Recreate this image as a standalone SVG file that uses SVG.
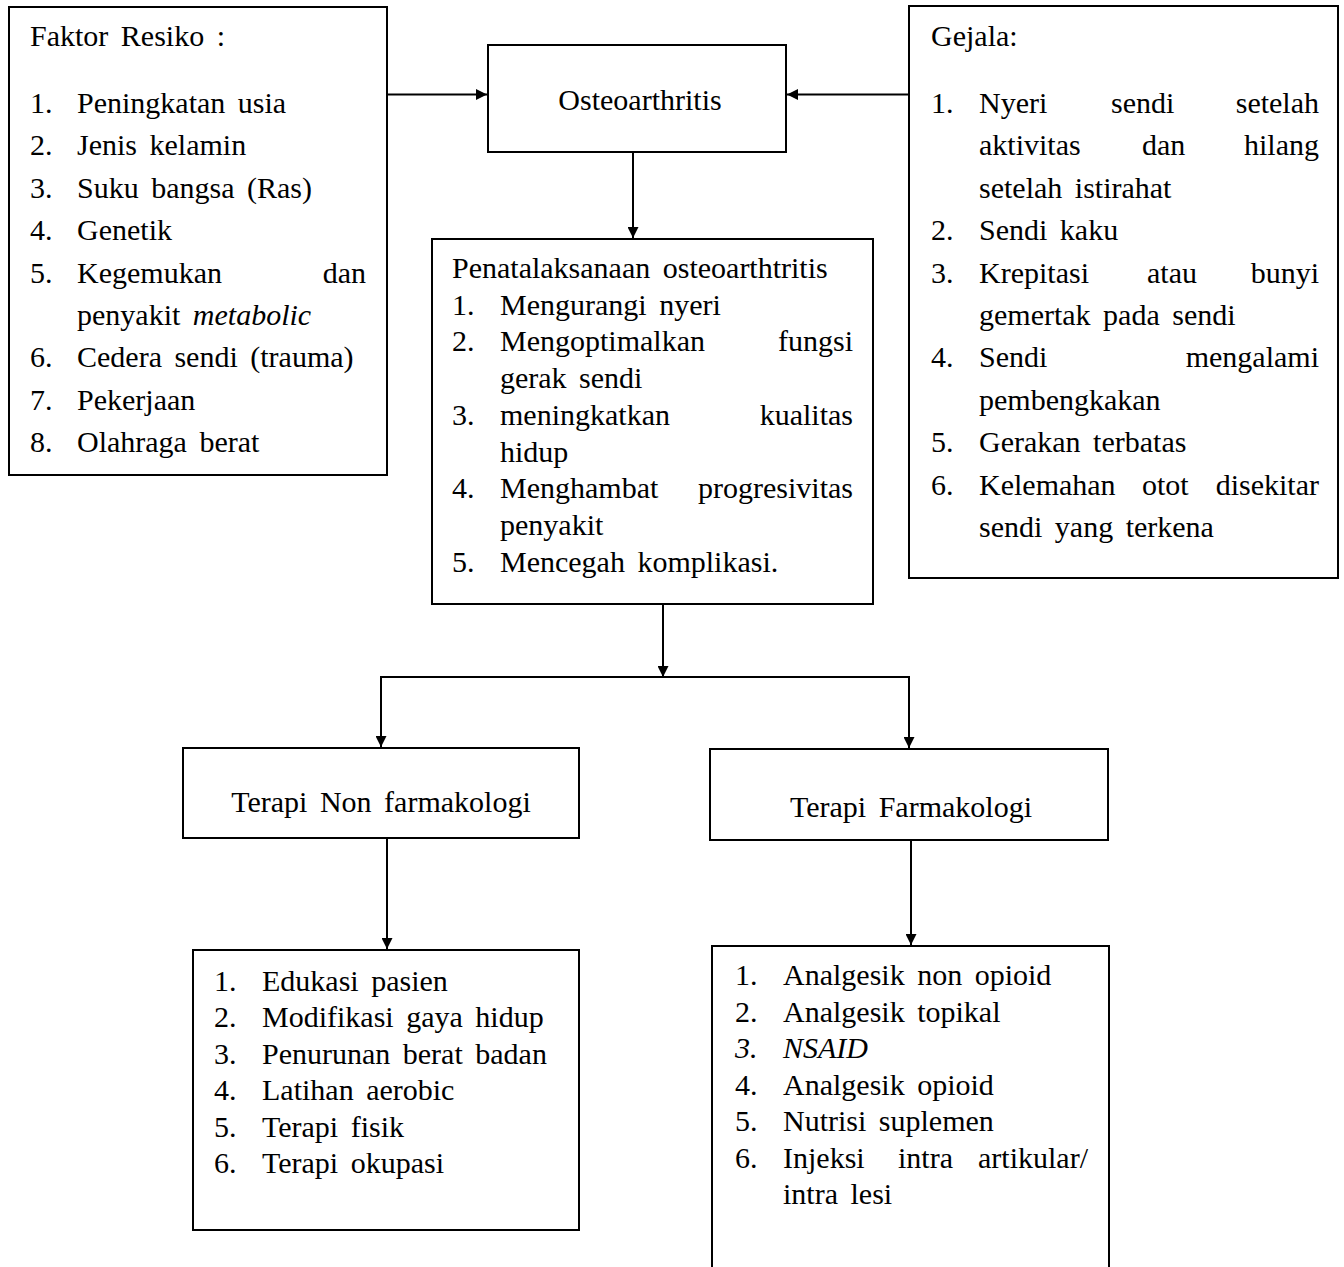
<svg xmlns="http://www.w3.org/2000/svg" width="1344" height="1267" viewBox="0 0 1344 1267">
<style>
  .box { fill: #fff; stroke: #000; stroke-width: 2; }
  .t { font-family: "Liberation Serif", "Times New Roman", serif; font-size: 30px; fill: #000; word-spacing: 5px; }
  .c { text-anchor: middle; }
  .e { text-anchor: end; }
  .i { font-style: italic; }
  .conn { fill: none; stroke: #000; stroke-width: 2; }
</style>
<defs>
  <marker id="arr" markerUnits="userSpaceOnUse" markerWidth="11" markerHeight="11" viewBox="0 0 10 10" refX="10" refY="5" orient="auto">
    <path d="M0,0 L10,5 L0,10 z" fill="#000"/>
  </marker>
</defs>
<rect width="1344" height="1267" fill="#fff"/>

<g id="faktor">
  <rect class="box" x="9" y="7" width="378" height="468"/>
  <text class="t" x="30" y="46">Faktor Resiko :</text>
  <text class="t" x="30" y="113">1.</text><text class="t" x="77" y="113">Peningkatan usia</text>
  <text class="t" x="30" y="155.4">2.</text><text class="t" x="77" y="155.4">Jenis kelamin</text>
  <text class="t" x="30" y="197.8">3.</text><text class="t" x="77" y="197.8">Suku bangsa (Ras)</text>
  <text class="t" x="30" y="240.2">4.</text><text class="t" x="77" y="240.2">Genetik</text>
  <text class="t" x="30" y="282.6">5.</text><text class="t" x="77" y="282.6">Kegemukan</text><text class="t e" x="366" y="282.6">dan</text>
  <text class="t" x="77" y="325">penyakit <tspan class="i">metabolic</tspan></text>
  <text class="t" x="30" y="367.4">6.</text><text class="t" x="77" y="367.4">Cedera sendi (trauma)</text>
  <text class="t" x="30" y="409.8">7.</text><text class="t" x="77" y="409.8">Pekerjaan</text>
  <text class="t" x="30" y="452.2">8.</text><text class="t" x="77" y="452.2">Olahraga berat</text>
</g>

<g id="osteoarthritis">
  <rect class="box" x="488" y="45" width="298" height="107"/>
  <text class="t c" x="640" y="110">Osteoarthritis</text>
</g>

<g id="gejala">
  <rect class="box" x="909" y="6" width="429" height="572"/>
  <text class="t" x="931" y="46">Gejala:</text>
  <text class="t" x="931" y="113">1.</text><text class="t" x="979" y="113">Nyeri</text><text class="t" x="1111" y="113">sendi</text><text class="t e" x="1319" y="113">setelah</text>
  <text class="t" x="979" y="155.4">aktivitas</text><text class="t" x="1142" y="155.4">dan</text><text class="t e" x="1319" y="155.4">hilang</text>
  <text class="t" x="979" y="197.8">setelah istirahat</text>
  <text class="t" x="931" y="240.2">2.</text><text class="t" x="979" y="240.2">Sendi kaku</text>
  <text class="t" x="931" y="282.6">3.</text><text class="t" x="979" y="282.6">Krepitasi</text><text class="t" x="1147" y="282.6">atau</text><text class="t e" x="1319" y="282.6">bunyi</text>
  <text class="t" x="979" y="325">gemertak pada sendi</text>
  <text class="t" x="931" y="367.4">4.</text><text class="t" x="979" y="367.4">Sendi</text><text class="t e" x="1319" y="367.4">mengalami</text>
  <text class="t" x="979" y="409.8">pembengkakan</text>
  <text class="t" x="931" y="452.2">5.</text><text class="t" x="979" y="452.2">Gerakan terbatas</text>
  <text class="t" x="931" y="494.6">6.</text><text class="t" x="979" y="494.6">Kelemahan</text><text class="t" x="1142" y="494.6">otot</text><text class="t e" x="1319" y="494.6">disekitar</text>
  <text class="t" x="979" y="537">sendi yang terkena</text>
</g>

<g id="penatalaksanaan">
  <rect class="box" x="432" y="239" width="441" height="365"/>
  <text class="t" x="452" y="278">Penatalaksanaan osteoarthtritis</text>
  <text class="t" x="452" y="314.7">1.</text><text class="t" x="500" y="314.7">Mengurangi nyeri</text>
  <text class="t" x="452" y="351.4">2.</text><text class="t" x="500" y="351.4">Mengoptimalkan</text><text class="t e" x="853" y="351.4">fungsi</text>
  <text class="t" x="500" y="388.1">gerak sendi</text>
  <text class="t" x="452" y="424.8">3.</text><text class="t" x="500" y="424.8">meningkatkan</text><text class="t e" x="853" y="424.8">kualitas</text>
  <text class="t" x="500" y="461.5">hidup</text>
  <text class="t" x="452" y="498.2">4.</text><text class="t" x="500" y="498.2">Menghambat</text><text class="t e" x="853" y="498.2">progresivitas</text>
  <text class="t" x="500" y="534.9">penyakit</text>
  <text class="t" x="452" y="571.6">5.</text><text class="t" x="500" y="571.6">Mencegah komplikasi.</text>
</g>

<g id="nonfarmakologi">
  <rect class="box" x="183" y="748" width="396" height="90"/>
  <text class="t c" x="381" y="812">Terapi Non farmakologi</text>
</g>

<g id="farmakologi">
  <rect class="box" x="710" y="749" width="398" height="91"/>
  <text class="t c" x="911" y="817">Terapi Farmakologi</text>
</g>

<g id="nonfarmakologi-list">
  <rect class="box" x="193" y="950" width="386" height="280"/>
  <text class="t" x="214" y="991">1.</text><text class="t" x="262" y="991">Edukasi pasien</text>
  <text class="t" x="214" y="1027.4">2.</text><text class="t" x="262" y="1027.4">Modifikasi gaya hidup</text>
  <text class="t" x="214" y="1063.8">3.</text><text class="t" x="262" y="1063.8">Penurunan berat badan</text>
  <text class="t" x="214" y="1100.2">4.</text><text class="t" x="262" y="1100.2">Latihan aerobic</text>
  <text class="t" x="214" y="1136.6">5.</text><text class="t" x="262" y="1136.6">Terapi fisik</text>
  <text class="t" x="214" y="1173">6.</text><text class="t" x="262" y="1173">Terapi okupasi</text>
</g>

<g id="farmakologi-list">
  <rect class="box" x="712" y="946" width="397" height="340"/>
  <text class="t" x="735" y="985">1.</text><text class="t" x="783" y="985">Analgesik non opioid</text>
  <text class="t" x="735" y="1021.5">2.</text><text class="t" x="783" y="1021.5">Analgesik topikal</text>
  <text class="t i" x="735" y="1058">3.</text><text class="t i" x="783" y="1058">NSAID</text>
  <text class="t" x="735" y="1094.5">4.</text><text class="t" x="783" y="1094.5">Analgesik opioid</text>
  <text class="t" x="735" y="1131">5.</text><text class="t" x="783" y="1131">Nutrisi suplemen</text>
  <text class="t" x="735" y="1167.5">6.</text><text class="t" x="783" y="1167.5">Injeksi</text><text class="t" x="898" y="1167.5">intra</text><text class="t e" x="1088" y="1167.5">artikular/</text>
  <text class="t" x="783" y="1204">intra lesi</text>
</g>

<g id="connectors">
  <path class="conn" d="M387,94.5 H487" marker-end="url(#arr)"/>
  <path class="conn" d="M909,94.5 H787" marker-end="url(#arr)"/>
  <path class="conn" d="M633,152 V238" marker-end="url(#arr)"/>
  <path class="conn" d="M663,604 V677" marker-end="url(#arr)"/>
  <path class="conn" d="M381,677 H909"/>
  <path class="conn" d="M381,676 V747" marker-end="url(#arr)"/>
  <path class="conn" d="M909,676 V748" marker-end="url(#arr)"/>
  <path class="conn" d="M387,838 V949" marker-end="url(#arr)"/>
  <path class="conn" d="M911,840 V945" marker-end="url(#arr)"/>
</g>
</svg>
